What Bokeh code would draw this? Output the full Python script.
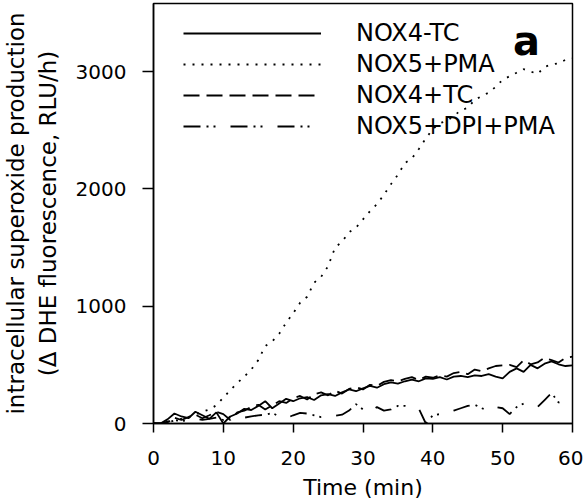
from bokeh.plotting import figure
from bokeh.models import Range1d, Legend, LegendItem, Label, FixedTicker
from bokeh.embed import file_html
from bokeh.resources import INLINE

# ---- data ----
time_min = list(range(61))

nox4_minus_tc = [0, 0, 35, 85, 60, 45, 100, 70, 40, 95, 0, 60, 85, 125, 115, 150, 190, 130, 170, 210,
                 190, 215, 225, 200, 240, 250, 235, 265, 290, 275, 300, 320, 305, 335, 350, 340, 360, 375,
                 360, 385, 380, 395, 375, 400, 405, 395, 410, 405, 420, 400, 385, 440, 470, 440, 500, 470,
                 510, 530, 505, 490, 495]

nox5_pma = [0, 0, 10, 25, 40, 55, 75, 100, 120, 155, 220, 285, 345, 400, 460, 540, 660, 700, 765, 860,
            940, 1030, 1080, 1200, 1250, 1340, 1500, 1550, 1630, 1670, 1740, 1810, 1870, 1950, 2040,
            2120, 2220, 2260, 2340, 2430, 2510, 2560, 2580, 2620, 2670, 2690, 2760, 2790, 2820, 2870,
            2930, 2960, 2990, 3020, 3000, 2980, 3040, 3060, 3070, 3100, 3110]

nox4_plus_tc = [0, 0, 10, 50, 30, 55, 75, 45, 70, 100, 80, 30, 95, 110, 140, 160, 120, 155, 190, 175,
                215, 235, 205, 250, 265, 240, 280, 255, 295, 310, 290, 330, 320, 355, 370, 360, 380, 395,
                370, 400, 390, 410, 400, 430, 440, 420, 460, 445, 470, 490, 495, 500, 480, 540, 505, 520,
                560, 540, 520, 560, 570]

nox5_dpi_pma = [0, 0, 15, 30, 20, 30, 45, 30, 40, 50, 30, 55, 60, 50, 60, 70, 75, 90, 60, 45,
                70, 90, 85, 70, 55, 60, 65, 75, 110, 165, 120, 95, 140, 110, 120, 150, 150, 145,
                125, 0, 70, 80, 90, 110, 130, 150, 160, 130, 110, 140, 130, 80, 140, 170, 160, 140,
                200, 260, 180, 170, 150]

series_labels = ["NOX4-TC", "NOX5+PMA", "NOX4+TC", "NOX5+DPI+PMA"]
x_ticks = [0, 10, 20, 30, 40, 50, 60]
y_ticks = [0, 1000, 2000, 3000]

FONT = "DejaVu Sans"

p = figure(width=583, height=503, output_backend="svg", toolbar_location=None,
           x_range=Range1d(0, 60), y_range=Range1d(0, 3580),
           min_border_left=152, min_border_right=11, min_border_top=3, min_border_bottom=80)

p.grid.visible = False
p.outline_line_color = "black"
p.outline_line_width = 1.5
p.outline_line_alpha = 1.0
p.background_fill_color = "white"
p.border_fill_color = "white"

r1 = p.line(time_min, nox4_minus_tc, line_color="black", line_width=1.8)
r2 = p.line(time_min, nox5_pma, line_color="black", line_width=1.8, line_dash="2 7")
r3 = p.line(time_min, nox4_plus_tc, line_color="black", line_width=1.8, line_dash="16 7")
r4 = p.line(time_min, nox5_dpi_pma, line_color="black", line_width=1.8, line_dash="17 6 2 5 2 15")

for ax in (p.xaxis[0], p.yaxis[0]):
    ax.axis_line_width = 1.5
    ax.axis_line_color = "black"
    ax.major_tick_line_width = 1.5
    ax.major_tick_line_color = "black"
    ax.major_tick_in = 0
    ax.minor_tick_line_color = None
    ax.major_label_text_font = FONT
    ax.major_label_text_font_size = "20px"
    ax.major_label_text_color = "black"
    ax.axis_label_text_font = FONT
    ax.axis_label_text_font_style = "normal"
    ax.axis_label_text_color = "black"

p.xaxis.ticker = FixedTicker(ticks=x_ticks)
p.yaxis.ticker = FixedTicker(ticks=y_ticks)
p.xaxis.major_tick_out = 9
p.yaxis.major_tick_out = 11
p.xaxis.major_label_standoff = 18
p.yaxis.major_label_standoff = 16
p.xaxis.axis_label = "Time (min)"
p.xaxis.axis_label_text_font_size = "22px"
p.xaxis.axis_label_standoff = 7
p.yaxis.axis_label = "intracellular superoxide production\n(\u0394 DHE fluorescence, RLU/h)"
p.yaxis.axis_label_text_font_size = "23px"
p.yaxis.axis_label_standoff = 12

legend = Legend(items=[LegendItem(label=series_labels[0], renderers=[r1]),
                       LegendItem(label=series_labels[1], renderers=[r2]),
                       LegendItem(label=series_labels[2], renderers=[r3]),
                       LegendItem(label=series_labels[3], renderers=[r4])],
                location=(30, 283))
legend.glyph_width = 138
legend.glyph_height = 28
legend.label_height = 28
legend.label_standoff = 35
legend.spacing = 3
legend.padding = 0
legend.margin = 0
legend.border_line_alpha = 0
legend.background_fill_alpha = 0
legend.label_text_font = FONT
legend.label_text_font_size = "24px"
legend.label_text_color = "black"
p.add_layout(legend)

p.add_layout(Label(x=53.4, y=3264, text="a", text_font=FONT, text_font_size="40px",
                   text_font_style="bold", text_align="center", text_baseline="alphabetic",
                   text_color="black"))

open("out.html", "w").write(file_html(p, INLINE))
